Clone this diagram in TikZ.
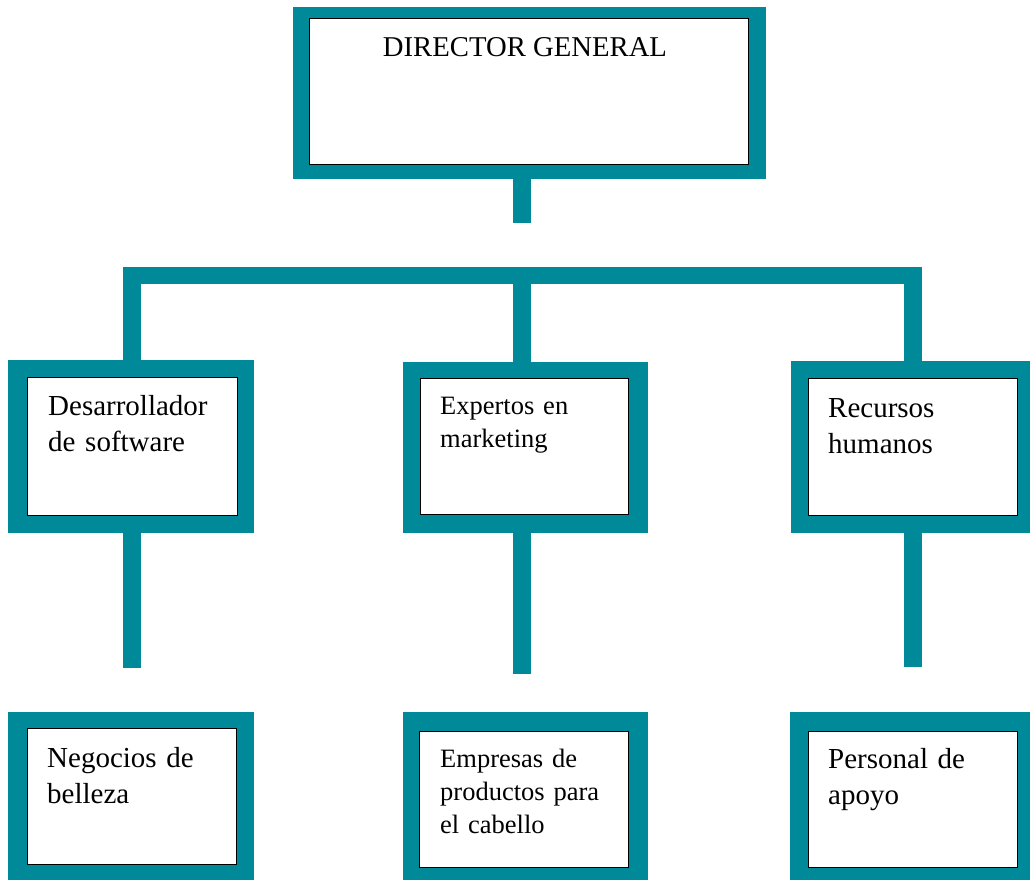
\documentclass[tikz,border=0pt]{standalone}
\usepackage{fontspec}
\setmainfont{Liberation Serif}
\definecolor{tealc}{RGB}{0,137,152}
\begin{document}
\begin{tikzpicture}[x=1pt,y=-1pt,
  outerbox/.style={fill=tealc, draw=none, anchor=north west, inner sep=0pt},
  innerbox/.style={fill=white, draw=black, line width=0.8pt, anchor=north west, inner sep=0pt},
  link/.style={draw=tealc, line width=17.5pt, line join=miter},
  lbl/.style={anchor=base west, align=left, text width=200pt, inner sep=0pt, font=\fontsize{29}{36.5}\selectfont},
  lblsmall/.style={anchor=base west, align=left, text width=200pt, inner sep=0pt, font=\fontsize{26.5}{33}\selectfont}]
\useasboundingbox (0,0) rectangle (1030,879);
% top
\node[outerbox, minimum width=473pt, minimum height=172pt] (dgO) at (293,7) {};
\node[innerbox, minimum width=439pt, minimum height=146pt] (dg) at (309,18) {};
\node[anchor=base, inner sep=0pt, font=\fontsize{28.7}{34}\selectfont] (dgT) at (525,56) {DIRECTOR GENERAL};
% middle row
\node[outerbox, minimum width=246pt, minimum height=173pt] (m1O) at (8,360) {};
\node[innerbox, minimum width=210pt, minimum height=138pt] (m1) at (27,377) {};
\node[lbl] (m1T) at (48,415) {Desarrollador\\de software};
\node[outerbox, minimum width=245pt, minimum height=171pt] (m2O) at (403,362) {};
\node[innerbox, minimum width=208pt, minimum height=136pt] (m2) at (420,378) {};
\node[lblsmall] (m2T) at (440,414) {Expertos en\\marketing};
\node[outerbox, minimum width=250pt, minimum height=172pt] (m3O) at (791,361) {};
\node[innerbox, minimum width=209pt, minimum height=137pt] (m3) at (808,378) {};
\node[lbl] (m3T) at (828,417) {Recursos\\humanos};
% bottom row
\node[outerbox, minimum width=246pt, minimum height=175pt] (b1O) at (8,712) {};
\node[innerbox, minimum width=209pt, minimum height=136pt] (b1) at (27,728) {};
\node[lbl] (b1T) at (47,767) {Negocios de\\belleza};
\node[outerbox, minimum width=245pt, minimum height=175pt] (b2O) at (403,712) {};
\node[innerbox, minimum width=209pt, minimum height=136pt] (b2) at (419,731) {};
\node[lblsmall] (b2T) at (440,767) {Empresas de\\productos para\\el cabello};
\node[outerbox, minimum width=250pt, minimum height=175pt] (b3O) at (790,712) {};
\node[innerbox, minimum width=209pt, minimum height=136pt] (b3) at (808,731) {};
\node[lbl] (b3T) at (828,768) {Personal de\\apoyo};
% connectors
\coordinate (s0) at (522,223);
\coordinate (h1) at (132,275.5);
\coordinate (h2) at (522,275.5);
\coordinate (h3) at (913,275.5);
\coordinate (e1) at (132,668);
\coordinate (e2) at (522,674);
\coordinate (e3) at (913,667);
\draw[link] (s0 |- dgO.south) -- (s0);
\draw[link] (h1 |- m1O.north) -- (h1) -- (h3) -- (h3 |- m3O.north);
\draw[link] (h2) -- (h2 |- m2O.north);
\draw[link] (e1 |- m1O.south) -- (e1);
\draw[link] (e2 |- m2O.south) -- (e2);
\draw[link] (e3 |- m3O.south) -- (e3);
\end{tikzpicture}
\end{document}
